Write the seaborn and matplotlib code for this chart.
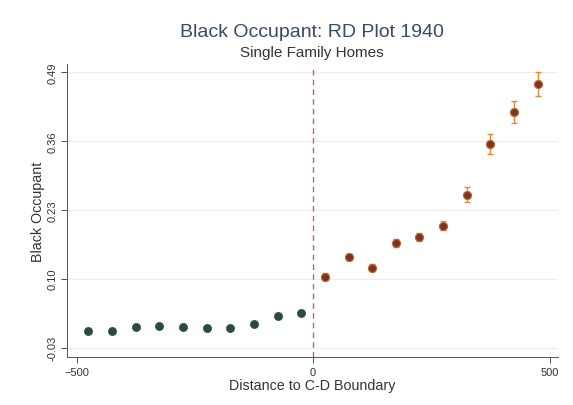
import numpy as np
import pandas as pd
import matplotlib
matplotlib.use("Agg")
import matplotlib.pyplot as plt
import seaborn as sns

# Data
left_x = [-475, -425, -375, -325, -275, -225, -175, -125, -75, -25]
left_y = [0.002, 0.002, 0.009, 0.011, 0.009, 0.006, 0.006, 0.014, 0.029, 0.036]
left_err = [0.003, 0.003, 0.003, 0.003, 0.003, 0.003, 0.003, 0.003, 0.004, 0.004]
right_x = [25, 75, 125, 175, 225, 275, 325, 375, 425, 475]
right_y = [0.104, 0.141, 0.121, 0.167, 0.179, 0.200, 0.258, 0.354, 0.414, 0.467]
right_err = [0.006, 0.006, 0.006, 0.007, 0.008, 0.009, 0.014, 0.019, 0.021, 0.023]
yticks = [-0.03, 0.10, 0.23, 0.36, 0.49]
xticks = [-500, 0, 500]

sns.set_theme(style="white")
plt.rcParams['font.family'] = ['Liberation Sans', 'DejaVu Sans']

fig = plt.figure(figsize=(5.73, 4.06), dpi=100)
ax = fig.add_axes([0.117, 0.118, 0.857, 0.722])

for yt in yticks:
    ax.axhline(yt, color="#ececec", lw=0.8, zorder=0)

ax.axvline(0, ymax=0.985, color="#d65a6e", lw=1.0, ls=(0, (4, 3)), zorder=1)

ax.errorbar(left_x, left_y, yerr=left_err, fmt="none", ecolor="#8fa39b", elinewidth=0.8, capsize=2, zorder=2)
ax.errorbar(right_x, right_y, yerr=right_err, fmt="none", ecolor="#e08a3c", elinewidth=1.0, capsize=2.5, zorder=2)

dl = pd.DataFrame({"x": left_x, "y": left_y})
dr = pd.DataFrame({"x": right_x, "y": right_y})
sns.scatterplot(data=dl, x="x", y="y", ax=ax, color="#2c4a42", s=34, edgecolor="#2c4a42", linewidth=0.5, zorder=3)
sns.scatterplot(data=dr, x="x", y="y", ax=ax, color="#7b3526", s=34, edgecolor="#c0692f", linewidth=0.8, zorder=3)

ax.set_xlim(-520, 518)
ax.set_ylim(-0.048, 0.505)
ax.set_xticks(xticks)
ax.set_yticks(yticks)
ax.set_yticklabels([f"{v:.2f}" for v in yticks], rotation=90, va="center")
ax.tick_params(axis="both", labelsize=8, colors="#333333", length=4, width=0.6, direction="out", left=True, bottom=True, pad=3)
for lab in ax.get_xticklabels() + ax.get_yticklabels():
    lab.set_color("#333333")

for s in ["top", "right"]:
    ax.spines[s].set_visible(False)
for s in ["left", "bottom"]:
    ax.spines[s].set_color("#555555")
    ax.spines[s].set_linewidth(0.7)

ax.set_xlabel("Distance to C-D Boundary", fontsize=10.3, color="#333333", labelpad=1)
ax.set_ylabel("Black Occupant", fontsize=10.3, color="#333333", labelpad=2)

fig.text(0.545, 0.909, "Black Occupant: RD Plot 1940", ha="center", va="baseline", fontsize=14, color="#3a4a60")
fig.text(0.545, 0.860, "Single Family Homes", ha="center", va="baseline", fontsize=11, color="#333333")

fig.savefig("out.png", dpi=100)
